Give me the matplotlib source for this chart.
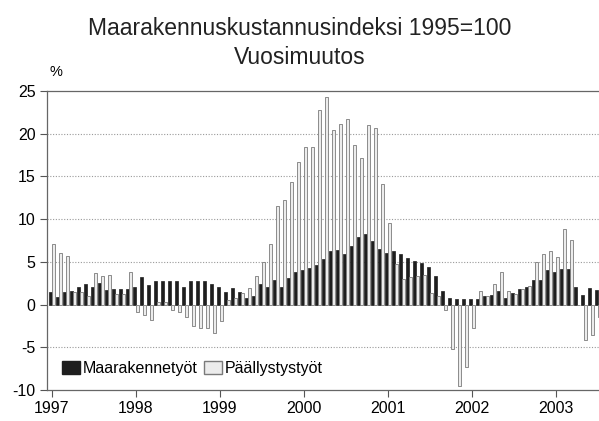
import numpy as np
import matplotlib
matplotlib.use('Agg')
import matplotlib.pyplot as plt
from matplotlib import font_manager
from matplotlib.patches import Patch

# kuukausittaiset vuosimuutokset, tammikuu 1997 - heinäkuu 2003
maarakennetyot = [
    1.45, 0.9, 1.5, 1.6, 2.1, 2.4, 2.1, 2.5, 1.7, 1.8, 1.8, 1.8,      # 1997
    2.1, 3.2, 2.3, 2.7, 2.8, 2.7, 2.7, 2.1, 2.8, 2.7, 2.7, 2.4,       # 1998
    2.0, 1.5, 1.9, 1.5, 0.8, 1.05, 2.4, 2.1, 2.9, 2.0, 3.1, 3.8,      # 1999
    4.0, 4.3, 4.6, 5.3, 6.25, 6.4, 5.9, 6.8, 7.85, 8.3, 7.4, 6.45,    # 2000
    6.05, 6.3, 5.9, 5.5, 5.1, 4.9, 4.4, 3.3, 1.6, 0.8, 0.6, 0.6,      # 2001
    0.7, 0.6, 1.05, 1.1, 1.6, 0.8, 1.3, 1.85, 2.0, 2.85, 2.85, 4.0,   # 2002
    3.8, 4.2, 4.2, 2.0, 1.1, 1.9, 1.7,                                # 2003
]
paallystystyot = [
    7.1, 6.0, 5.7, 1.5, 1.5, 1.0, 3.7, 3.4, 3.5, 1.2, 1.2, 3.8,       # 1997
    -0.9, -1.2, -1.8, 0.3, 0.3, -0.6, -0.9, -1.4, -2.5, -2.7, -2.7, -3.3,  # 1998
    -1.9, 0.5, 0.8, 1.4, 1.9, 3.4, 5.0, 7.1, 11.5, 12.2, 14.3, 16.7,  # 1999
    18.4, 18.4, 22.8, 24.3, 20.4, 21.1, 21.7, 18.7, 17.2, 21.0, 20.7, 14.1,  # 2000
    9.5, 4.7, 3.0, 3.2, 3.3, 3.5, 1.4, 1.0, -0.6, -5.2, -9.5, -7.3,   # 2001
    -2.7, 1.6, 1.05, 2.4, 3.8, 1.6, 1.2, 1.8, 2.2, 5.0, 5.9, 6.25,    # 2002
    5.6, 8.9, 7.5, -0.1, -4.2, -3.6, -1.4,                            # 2003
]
vuodet = ['1997', '1998', '1999', '2000', '2001', '2002', '2003']
y_ticks = [25, 20, 15, 10, 5, 0, -5, -10]

fonts = {f.name for f in font_manager.fontManager.ttflist}
if 'Liberation Sans Narrow' in fonts:
    perhe = 'Liberation Sans Narrow'
    koko, otsikko_koko = 13.5, 20
else:
    perhe = 'Liberation Sans'
    koko, otsikko_koko = 11.5, 16.5
plt.rcParams['font.family'] = [perhe, 'DejaVu Sans']
plt.rcParams['axes.unicode_minus'] = False

fig = plt.figure(figsize=(5.99, 4.21), dpi=100)
ax = fig.add_axes([0.079, 0.0736, 0.925, 0.7104])

x = np.arange(len(maarakennetyot))
w = 0.44
ax.bar(x - w / 2, maarakennetyot, w, color='#1e1e1e', edgecolor='#1e1e1e',
       linewidth=0.5, label='Maarakennetyöt', zorder=3)
ax.bar(x + w / 2, paallystystyot, w, color='#ececec', edgecolor='#7a7a7a',
       linewidth=0.6, label='Päällystystyöt', zorder=3)

ax.set_ylim(-10, 25)
ax.set_yticks(y_ticks)
ax.set_xlim(-0.62, 78.45)
ax.set_xticks(np.arange(len(vuodet)) * 12)
ax.set_xticklabels(vuodet)
ax.tick_params(axis='both', labelsize=koko, direction='out', length=5,
               color='#555555', width=0.8)
ax.tick_params(axis='x', pad=3)

for yy in [20, 15, 10, 5, -5]:
    ax.axhline(yy, color='#9a9a9a', linestyle=(0, (1, 1.5)), linewidth=0.8, zorder=1)

for s in ['left', 'top', 'bottom']:
    ax.spines[s].set_color('#666666')
    ax.spines[s].set_linewidth(0.9)
ax.spines['right'].set_visible(False)

ax.text(0.004, 1.04, '%', transform=ax.transAxes, fontsize=koko - 1,
        ha='left', va='bottom')

handles = [Patch(facecolor='#1e1e1e', edgecolor='#1e1e1e', label='Maarakennetyöt'),
           Patch(facecolor='#ececec', edgecolor='#7a7a7a', label='Päällystystyöt')]
ax.legend(handles=handles, loc='lower left', bbox_to_anchor=(0.01, 0.015),
          ncol=2, frameon=False, fontsize=koko, handlelength=1.1,
          handleheight=0.9, handletextpad=0.2, columnspacing=0.4,
          borderaxespad=0.2)

fig.text(0.5, 0.932, 'Maarakennuskustannusindeksi 1995=100', ha='center',
         va='center', fontsize=otsikko_koko, color='#222222')
fig.text(0.5, 0.864, 'Vuosimuutos', ha='center', va='center',
         fontsize=otsikko_koko, color='#222222')

fig.savefig('out.png', dpi=100)
